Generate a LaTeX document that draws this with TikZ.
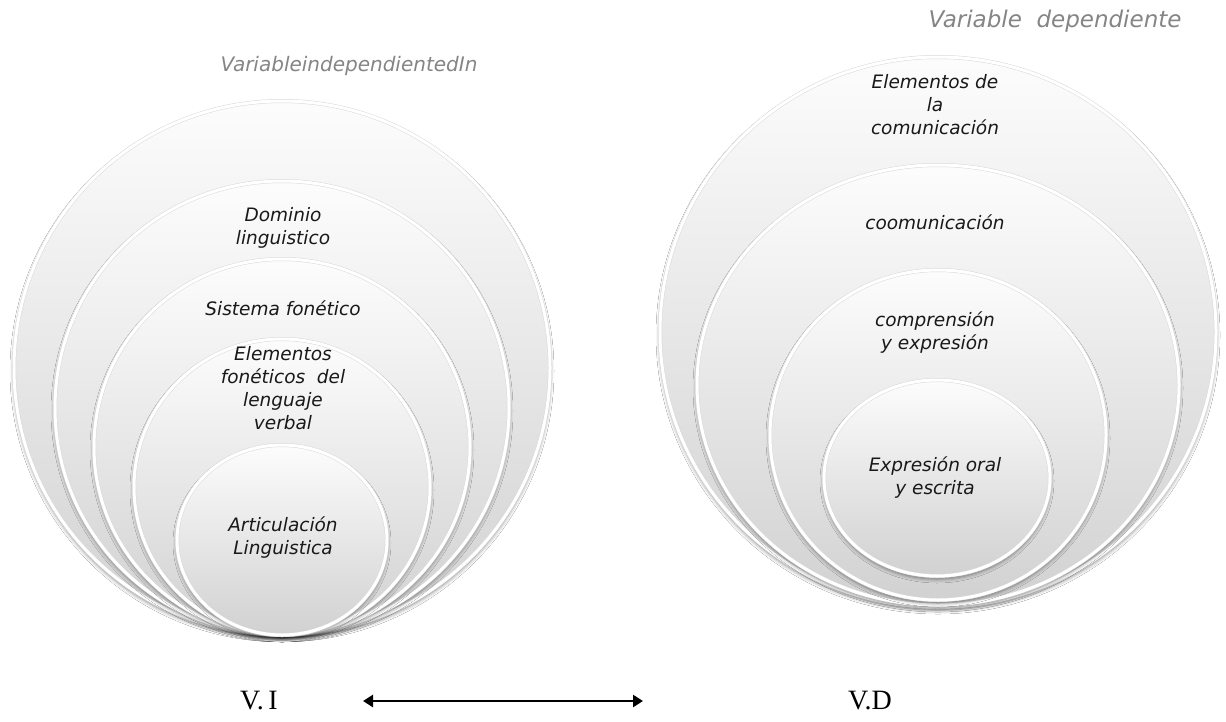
\documentclass[tikz,border=0pt]{standalone}
\usepackage{fontspec}
\setmainfont{Liberation Serif}
\newfontfamily\vfont{DejaVu Sans}
\usetikzlibrary{shapes.geometric,arrows.meta,shadows.blur}
\definecolor{lblgray}{HTML}{858585}
\tikzset{
  ring/.style={ellipse, inner sep=0pt, draw=gray!30, line width=0.5pt,
    double=white, double distance=3pt,
    top color=gray!2, bottom color=gray!36,
    blur shadow={shadow xshift=0pt, shadow yshift=-3pt, shadow blur radius=4pt, shadow opacity=50}},
  ctext/.style={align=center, font=\vfont\itshape\fontsize{18.5}{23}\selectfont, text=black!90},
  gtext/.style={font=\vfont\itshape, text=lblgray},
  vtext/.style={font=\fontsize{28}{30}\selectfont},
  arr/.style={line width=2.5pt, {Triangle[length=10pt,width=12pt]}-{Triangle[length=10pt,width=12pt]}}
}
\begin{document}
\begin{tikzpicture}[x=1pt,y=-1pt]
\fill[white] (0,0) rectangle (1226,721);
\useasboundingbox (0,0) rectangle (1226,721);
% left group
\node[ring, minimum width=536pt, minimum height=534pt] (L1) at (282,368) {};
\node[ring, minimum width=454pt, minimum height=454pt] (L2) at (282,408) {};
\node[ring, minimum width=376pt, minimum height=376pt] (L3) at (282,447) {};
\node[ring, minimum width=296pt, minimum height=296pt] (L4) at (282,487) {};
\node[ring, minimum width=210pt, minimum height=190pt] (L5) at (282,540) {};
\node[ctext] (tL2) at (283,228) {Dominio\\linguistico};
\node[ctext] (tL3) at (283,308) {Sistema fonético};
\node[ctext] (tL4) at (283,388) {Elementos\\fonéticos \ del\\lenguaje\\verbal};
\node[ctext] (tL5) at (283,538) {Articulación\\Linguistica};
\node[gtext, font=\vfont\itshape\fontsize{20}{24}\selectfont] (lblI) at (349,66) {VariableindependientedIn};
% right group
\node[ring, minimum width=556pt, minimum height=550pt] (R1) at (938,332) {};
\node[ring, minimum width=482pt, minimum height=440pt] (R2) at (938,385) {};
\node[ring, minimum width=336pt, minimum height=330pt] (R3) at (938,435) {};
\node[ring, minimum width=226pt, minimum height=196pt] (R4) at (937,478) {};
\node[ctext] (tR1) at (935,105) {Elementos de\\la\\comunicación};
\node[ctext] (tR2) at (935,222) {coomunicación};
\node[ctext] (tR3) at (935,333) {comprensión\\y expresión};
\node[ctext] (tR4) at (935,478) {Expresión oral\\y escrita};
\node[gtext, font=\vfont\itshape\fontsize{23}{27}\selectfont] (lblD) at (1055,21) {Variable \ dependiente};
% bottom
\node[vtext] (vi) at (259,701) {V.\,I};
\node[vtext] (vd) at (870,701) {V.D};
\coordinate (a1) at (363,701);
\coordinate (a2) at (643,701);
\draw[arr] (a1) -- (a2);
\end{tikzpicture}
\end{document}
